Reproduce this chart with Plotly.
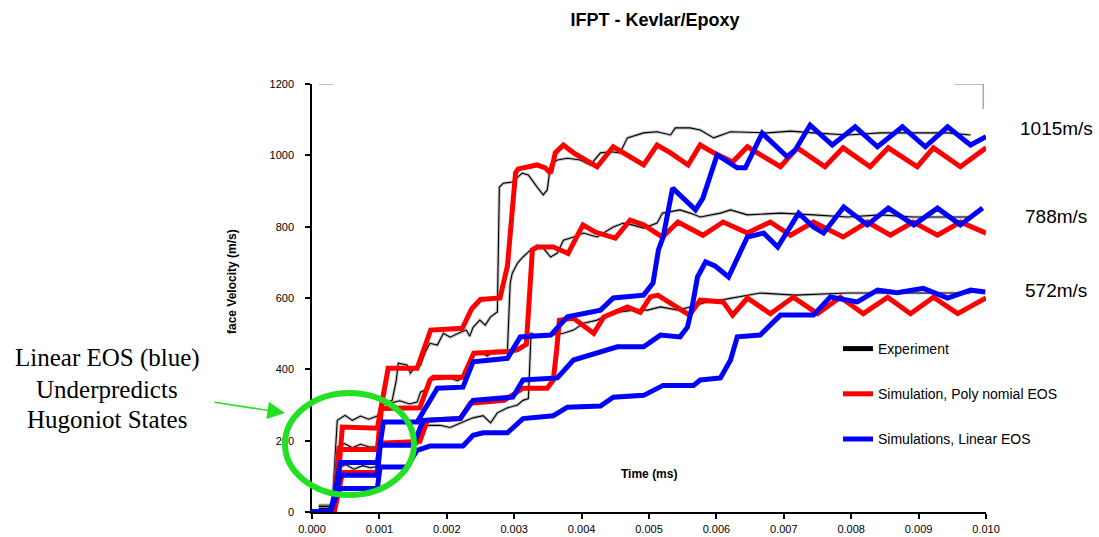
import plotly.graph_objects as go

# ---------------- data (time in ms, free surface velocity in m/s) ----------------
exp1_t = [0.0001, 0.0003, 0.000375, 0.00049, 0.0006, 0.00072, 0.00084, 0.00097, 0.00105, 0.00119,
          0.00125, 0.00128, 0.00141, 0.00146, 0.00153, 0.00161, 0.00168, 0.00175, 0.00186, 0.00195,
          0.00205, 0.0022, 0.00229, 0.00234, 0.00239, 0.00249, 0.00257, 0.00265, 0.00275, 0.00278,
          0.00284, 0.00297, 0.00312, 0.00321, 0.00334, 0.00343, 0.00349, 0.00354, 0.00364, 0.00379,
          0.00398, 0.00413, 0.00428, 0.00443, 0.00457, 0.00468, 0.00492, 0.00512, 0.00532, 0.00539,
          0.00561, 0.00576, 0.00596, 0.00621, 0.00676, 0.0071, 0.00744, 0.00795, 0.00843, 0.00892,
          0.00943, 0.00977]
exp1_v = [19, 19, 257, 271, 257, 269, 260, 269, 300, 313,
          369, 417, 412, 389, 406, 412, 448, 473, 468, 501,
          490, 504, 510, 493, 518, 538, 524, 547, 561, 911,
          922, 925, 950, 945, 911, 889, 903, 973, 987, 992,
          987, 973, 1007, 1010, 1007, 1049, 1063, 1066, 1057, 1077,
          1077, 1071, 1049, 1066, 1063, 1068, 1063, 1057, 1063, 1063,
          1063, 1057]

exp2_t = [0.0001, 0.0003, 0.00038, 0.00048, 0.0006, 0.00072, 0.00084, 0.00097, 0.00104, 0.00116,
          0.0013, 0.00145, 0.00156, 0.00161, 0.00173, 0.00175, 0.00205, 0.00216, 0.00227, 0.00239,
          0.00249, 0.0026, 0.00272, 0.0029, 0.00294, 0.00297, 0.00305, 0.00313, 0.00324, 0.00334,
          0.00343, 0.00354, 0.00364, 0.00373, 0.00388, 0.00403, 0.00423, 0.00438, 0.00447, 0.00462,
          0.00475, 0.00492, 0.00512, 0.0052, 0.00546, 0.00561, 0.00576, 0.00606, 0.00621, 0.00646,
          0.00695, 0.00744, 0.00795, 0.00843, 0.00892, 0.00943, 0.00977]
exp2_v = [10, 10, 182, 192, 180, 190, 183, 182, 285, 305,
          312, 303, 308, 336, 347, 370, 375, 368, 378, 440,
          449, 437, 453, 453, 641, 669, 698, 715, 734, 748,
          740, 715, 726, 762, 771, 782, 771, 790, 799, 810,
          805, 796, 810, 838, 847, 838, 827, 838, 847, 833,
          838, 833, 827, 833, 827, 827, 827]

exp3_t = [0.0001, 0.0003, 0.00038, 0.0005, 0.00062, 0.00075, 0.00087, 0.00097, 0.00104, 0.00118,
          0.00132, 0.00145, 0.00156, 0.00161, 0.00175, 0.0019, 0.00205, 0.0022, 0.0023, 0.00239,
          0.00254, 0.00265, 0.00275, 0.0029, 0.00305, 0.00313, 0.00321, 0.00325, 0.00339, 0.00373,
          0.00388, 0.00403, 0.00423, 0.00438, 0.00457, 0.00477, 0.00498, 0.00517, 0.00543, 0.00561,
          0.00586, 0.00606, 0.00625, 0.00646, 0.00665, 0.00717, 0.00795, 0.00892, 0.00977]
exp3_v = [15, 15, 122, 133, 120, 130, 124, 128, 187, 195,
          184, 193, 190, 238, 243, 243, 237, 250, 257, 264,
          270, 250, 278, 292, 300, 313, 318, 501, 491, 501,
          510, 529, 538, 552, 561, 566, 566, 575, 566, 575,
          589, 594, 600, 608, 614, 608, 614, 614, 614]

# Simulation, polynomial EOS
red1_t = [0, 0.00033, 0.0004, 0.00045, 0.00097, 0.00106, 0.00113, 0.00156, 0.00168, 0.00176,
          0.00223, 0.00237, 0.0025, 0.00279, 0.0029, 0.00297, 0.00302, 0.00306, 0.00334, 0.00346,
          0.00354, 0.00361, 0.00373, 0.00388, 0.00423, 0.00447, 0.0046, 0.00492, 0.00512, 0.00532,
          0.00558, 0.00576, 0.00596, 0.00624, 0.00646, 0.00695, 0.0072, 0.00761, 0.00788, 0.00828,
          0.00855, 0.00898, 0.00922, 0.00962, 0.01]
red1_v = [0, 0, 120, 238, 235, 330, 403, 403, 470, 510,
          515, 570, 596, 600, 690, 855, 951, 962, 973, 965,
          950, 1007, 1029, 1007, 968, 1024, 1010, 973, 1029, 1007,
          973, 1029, 1007, 981, 1024, 968, 1021, 968, 1021, 968,
          1021, 968, 1021, 968, 1021]

red2_t = [0, 0.00033, 0.0004, 0.00097, 0.00103, 0.0016, 0.00175, 0.0018, 0.00224, 0.0024,
          0.00293, 0.00305, 0.00318, 0.00327, 0.00335, 0.00358, 0.0038, 0.00398, 0.00402, 0.0042,
          0.0045, 0.00472, 0.00492, 0.0052, 0.00543, 0.0058, 0.0061, 0.00646, 0.0068, 0.0071,
          0.00744, 0.00788, 0.00824, 0.00858, 0.00892, 0.00928, 0.00962, 0.01]
red2_v = [0, 0, 175, 175, 290, 292, 370, 378, 378, 445,
          450, 455, 470, 735, 743, 743, 725, 796, 805, 785,
          768, 818, 805, 771, 813, 776, 813, 782, 813, 776,
          813, 771, 813, 776, 813, 776, 813, 782]

red3_t = [0, 0.00033, 0.0004, 0.00045, 0.00097, 0.00101, 0.0016, 0.00171, 0.0022, 0.00235,
          0.00285, 0.00298, 0.00313, 0.00349, 0.00358, 0.00363, 0.00367, 0.00388, 0.00418, 0.00433,
          0.00468, 0.00487, 0.00502, 0.00513, 0.0055, 0.0056, 0.00576, 0.0061, 0.00624, 0.00646,
          0.0068, 0.00714, 0.0075, 0.00784, 0.00818, 0.00854, 0.00888, 0.00922, 0.00958, 0.01]
red3_v = [0, 0, 60, 111, 111, 193, 198, 257, 262, 305,
          313, 330, 347, 347, 370, 454, 538, 543, 501, 547,
          575, 560, 603, 608, 566, 552, 594, 589, 552, 600,
          556, 602, 556, 602, 556, 602, 556, 602, 556, 600]

# Simulations, linear EOS
blue1_t = [0, 0.00027, 0.00035, 0.00042, 0.00097, 0.00106, 0.00156, 0.00186, 0.00224, 0.00239,
           0.0029, 0.00309, 0.00354, 0.00379, 0.00428, 0.00447, 0.00492, 0.00506, 0.00514, 0.00521,
           0.00535, 0.00546, 0.00569, 0.0058, 0.00601, 0.00631, 0.00643, 0.00668, 0.00705, 0.00717,
           0.00739, 0.00772, 0.00806, 0.00839, 0.00876, 0.0091, 0.00943, 0.00977, 0.01]
blue1_v = [0, 0, 60, 139, 139, 252, 252, 347, 350, 421,
           431, 491, 496, 547, 566, 600, 608, 642, 735, 771,
           908, 889, 847, 880, 1001, 965, 965, 1062, 996, 1015,
           1085, 1029, 1080, 1024, 1080, 1024, 1080, 1029, 1052]

blue2_t = [0, 0.00027, 0.00035, 0.00042, 0.00097, 0.00101, 0.0015, 0.00165, 0.0022, 0.00239,
           0.00298, 0.00313, 0.00364, 0.00388, 0.00453, 0.00492, 0.00517, 0.00546, 0.00557, 0.00564,
           0.00572, 0.00584, 0.00598, 0.00618, 0.00646, 0.0067, 0.00691, 0.00722, 0.00744, 0.00759,
           0.00789, 0.00824, 0.00855, 0.00893, 0.00928, 0.00962, 0.00995]
blue2_v = [0, 0, 50, 103, 103, 187, 187, 257, 262, 313,
           322, 370, 376, 426, 463, 463, 496, 491, 518, 575,
           659, 701, 690, 659, 771, 782, 743, 838, 799, 782,
           855, 805, 852, 805, 852, 805, 852]

blue3_t = [0, 0.00027, 0.00035, 0.00042, 0.00097, 0.00101, 0.00141, 0.00156, 0.00175, 0.00224,
           0.00239, 0.00254, 0.0029, 0.00313, 0.00358, 0.00379, 0.00428, 0.00447, 0.00492, 0.00521,
           0.00566, 0.00576, 0.00606, 0.00621, 0.00631, 0.00665, 0.00695, 0.00744, 0.00769, 0.00809,
           0.00839, 0.00868, 0.00907, 0.00943, 0.00977, 0.00999]
blue3_v = [0, 0, 40, 66, 66, 126, 126, 173, 185, 185,
           215, 222, 222, 262, 270, 294, 297, 322, 327, 355,
           355, 370, 376, 426, 491, 496, 552, 552, 603, 589,
           622, 615, 627, 600, 622, 617]

# stray grey frame pieces from the experimental record
art_t = [0.0001, 0.00032, None, 0.00954, 0.00996, 0.00996]
art_v = [1200, 1200, None, 1200, 1200, 1130]

x_ticks = [0.000, 0.001, 0.002, 0.003, 0.004, 0.005, 0.006, 0.007, 0.008, 0.009, 0.010]
y_ticks = [0, 200, 400, 600, 800, 1000, 1200]
impact_labels = ["1015m/s", "788m/s", "572m/s"]

legend_names = ["Experiment", "Simulation, Poly nomial EOS", "Simulations, Linear EOS"]

# ---------------- figure ----------------
FONT = "Arial, Liberation Sans, sans-serif"
fig = go.Figure()

fig.add_trace(go.Scatter(x=art_t, y=art_v, mode="lines", line=dict(color="#a8a8a8", width=1.5),
                         showlegend=False, hoverinfo="skip"))

for t, v in [(exp1_t, exp1_v), (exp2_t, exp2_v), (exp3_t, exp3_v)]:
    fig.add_trace(go.Scatter(x=t, y=v, mode="lines", line=dict(color="rgba(140,140,140,0.5)", width=3.2),
                             showlegend=False, hoverinfo="skip"))
    fig.add_trace(go.Scatter(x=t, y=v, mode="lines", line=dict(color="black", width=1.1),
                             showlegend=False, name=legend_names[0]))

for i, (t, v) in enumerate([(red1_t, red1_v), (red2_t, red2_v), (red3_t, red3_v)]):
    fig.add_trace(go.Scatter(x=t, y=v, mode="lines", line=dict(color="#ff0000", width=5),
                             name=legend_names[1], legendgroup="poly", showlegend=(i == 0),
                             legendrank=2))

for i, (t, v) in enumerate([(blue1_t, blue1_v), (blue2_t, blue2_v), (blue3_t, blue3_v)]):
    fig.add_trace(go.Scatter(x=t, y=v, mode="lines", line=dict(color="#0000ff", width=5),
                             name=legend_names[2], legendgroup="lin", showlegend=(i == 0),
                             legendrank=3))

# legend key for the experiment
fig.add_trace(go.Scatter(x=[None], y=[None], mode="lines", line=dict(color="black", width=5),
                         name=legend_names[0], legendgroup="exp", legendrank=1))

# plot-area pixel helpers for paper coordinates (layout only)
L, R, T, B = 312, 113, 84, 25
W, H = 1099, 537
pw, ph = W - L - R, H - T - B


def px(x):
    return (x - L) / pw


def py(y):
    return (H - B - y) / ph


annotations = []
for lab, xx, yy in zip(impact_labels, [1018, 1023, 1023], [128, 217, 290]):
    annotations.append(dict(text=lab, xref="paper", yref="paper", x=px(xx),
                            y=py(yy), xanchor="left", yanchor="middle", showarrow=False,
                            font=dict(family=FONT, size=19, color="black")))

annotations.append(dict(text="<b>Time (ms)</b>", xref="paper", yref="paper", x=px(649), y=py(474),
                        xanchor="center", yanchor="middle", showarrow=False,
                        font=dict(family=FONT, size=12, color="black")))
annotations.append(dict(text="<b>face Velocity (m/s)</b>", xref="paper", yref="paper", x=px(232), y=py(282),
                        xanchor="center", yanchor="middle", showarrow=False, textangle=-90,
                        font=dict(family=FONT, size=12, color="black")))

for line_txt, yy in zip(["Linear EOS (blue)", "Underpredicts", "Hugoniot States"], [358, 389, 419]):
    annotations.append(dict(text=line_txt, xref="paper", yref="paper", x=px(107), y=py(yy),
                            xanchor="center", yanchor="middle", showarrow=False,
                            font=dict(family="Liberation Serif, Times New Roman, serif", size=25,
                                      color="black")))

annotations.append(dict(text="", xref="paper", yref="paper", x=px(285), y=py(413),
                        ax=213 - 285, ay=402 - 413, axref="pixel", ayref="pixel",
                        showarrow=True, arrowhead=2, arrowsize=2.2, arrowwidth=1.6, arrowcolor="#22e022"))

shapes = [dict(type="circle", xref="paper", yref="paper", x0=px(285), x1=px(414), y0=py(495), y1=py(393),
               line=dict(color="#22e022", width=6), layer="above")]

fig.update_layout(
    width=W, height=H,
    margin=dict(l=L, r=R, t=T, b=B, pad=0, autoexpand=False),
    paper_bgcolor="white", plot_bgcolor="white",
    title=dict(text="<b>IFPT - Kevlar/Epoxy</b>", x=655 / W, xref="container", xanchor="center",
               y=1 - 20 / H, yref="container", yanchor="middle",
               font=dict(family=FONT, size=18, color="black")),
    xaxis=dict(range=[0, 0.010], tickvals=x_ticks, tickformat=".3f", showgrid=False, zeroline=False,
               showline=True, linecolor="black", linewidth=2, ticks="outside", ticklen=5, tickwidth=1.5,
               tickcolor="black", ticklabelstandoff=1, automargin=False,
               tickfont=dict(family=FONT, size=11, color="black")),
    yaxis=dict(range=[0, 1200], tickvals=y_ticks, showgrid=False, zeroline=False,
               showline=True, linecolor="black", linewidth=1.5, ticks="outside", ticklen=5, tickwidth=1.5,
               tickcolor="black", ticklabelstandoff=9, automargin=False,
               tickfont=dict(family=FONT, size=11, color="black")),
    showlegend=True,
    legend=dict(x=px(838), y=py(333), xanchor="left", yanchor="top", bgcolor="rgba(0,0,0,0)",
                font=dict(family=FONT, size=14, color="black"), tracegroupgap=24, traceorder="grouped",
                itemwidth=30),
    annotations=annotations,
    shapes=shapes,
)

fig.write_html("out.html")
